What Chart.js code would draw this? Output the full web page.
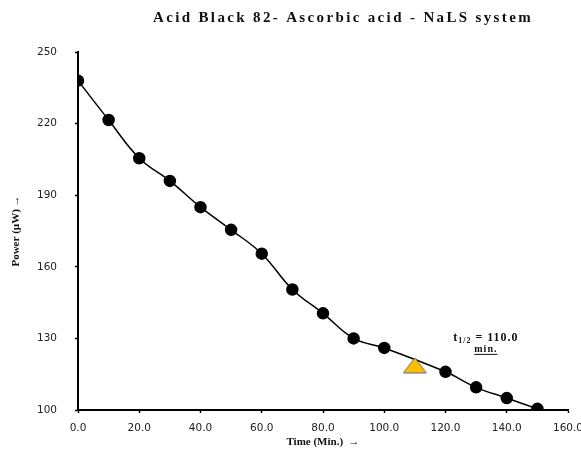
<!DOCTYPE html>
<html>
<head>
<meta charset="utf-8">
<script src="https://cdn.jsdelivr.net/npm/chart.js@4.4.1/dist/chart.umd.min.js"></script>
<style>
  html, body { margin: 0; padding: 0; background: #fff; }
  #wrap { width: 581px; height: 449px; }
</style>
</head>
<body>
<div id="wrap"><canvas id="chart" width="581" height="449"></canvas></div>
<script>
// time in minutes and measured power (uW)
var times = [0, 10, 20, 30, 40, 50, 60, 70, 80, 90, 100, 120, 130, 140, 150];
var power = [238, 221.5, 205.5, 196, 185, 175.5, 165.5, 150.5, 140.5, 130, 126, 116, 109.5, 105, 100.5];
// half-life marker
var halfTime = [110];
var halfPower = [118.7];
var titleText = 'Acid Black 82- Ascorbic acid - NaLS system';
var halfLabel = ['t', '1/2', ' = 110.0', 'min.'];

var serif = '"Liberation Serif", "Times New Roman", serif';

var curve = [];
for (var i = 0; i < times.length; i++) {
    curve.push({x: times[i], y: power[i]});
}

// flat yellow triangle for the t1/2 marker
var tri = document.createElement('canvas');
tri.width = 25; tri.height = 17;
var tc = tri.getContext('2d');
tc.beginPath();
tc.moveTo(1, 16); tc.lineTo(24, 16); tc.lineTo(12.5, 1); tc.closePath();
tc.fillStyle = '#FFC000';
tc.fill();
tc.strokeStyle = '#666';
tc.lineWidth = 1;
tc.stroke();

// title + t1/2 note drawn on top
var textPlugin = {
    id: 'textPlugin',
    afterDraw: function(chart) {
        var ctx = chart.ctx;
        var xs = chart.scales.x, ys = chart.scales.y;
        ctx.save();
        ctx.fillStyle = '#111';
        ctx.textBaseline = 'middle';

        // title with wide spacing like the original
        ctx.font = 'bold 15px ' + serif;
        var w = ctx.measureText(titleText).width;
        var sp = (380 - w) / titleText.length;
        ctx.letterSpacing = sp + 'px';
        ctx.textAlign = 'left';
        ctx.fillText(titleText, 153, 18);
        ctx.letterSpacing = '0px';

        // half-life note
        var x0 = xs.getPixelForValue(122.5);
        var y0 = ys.getPixelForValue(130);
        ctx.font = 'bold 12px ' + serif;
        ctx.letterSpacing = '1px';
        ctx.fillText(halfLabel[0], x0, y0);
        var tw = ctx.measureText(halfLabel[0]).width;
        ctx.font = 'bold 8px ' + serif;
        ctx.fillText(halfLabel[1], x0 + tw, y0 + 3);
        var sw = ctx.measureText(halfLabel[1]).width;
        ctx.font = 'bold 12px ' + serif;
        ctx.fillText(halfLabel[2], x0 + tw + sw, y0);
        var totalW = tw + sw + ctx.measureText(halfLabel[2]).width;

        ctx.font = 'bold 10px ' + serif;
        ctx.textAlign = 'center';
        var mx = x0 + totalW / 2;
        var my = y0 + 11;
        ctx.fillText(halfLabel[3], mx, my);
        var mw = ctx.measureText(halfLabel[3]).width;
        ctx.strokeStyle = '#111';
        ctx.lineWidth = 1;
        ctx.beginPath();
        ctx.moveTo(mx - mw / 2, my + 5);
        ctx.lineTo(mx + mw / 2, my + 5);
        ctx.stroke();
        ctx.restore();
    }
};

var ctx = document.getElementById('chart').getContext('2d');
var myChart = new Chart(ctx, {
    type: 'line',
    data: {
        datasets: [
            {
                // half-life triangle, on top
                data: [{x: halfTime[0], y: halfPower[0]}],
                showLine: false,
                pointStyle: tri,
                pointRadius: 12,
                order: 0
            },
            {
                data: curve,
                borderColor: '#000',
                borderWidth: 1.5,
                pointRadius: 5.5,
                pointBackgroundColor: '#000',
                pointBorderColor: '#000',
                tension: 0.4,
                fill: false,
                order: 1
            }
        ]
    },
    options: {
        responsive: false,
        animation: false,
        layout: { padding: { top: 52, right: 13, left: 0, bottom: 0 } },
        plugins: {
            legend: { display: false },
            tooltip: { enabled: false },
            title: { display: false }
        },
        scales: {
            x: {
                type: 'linear',
                min: 0,
                max: 160,
                afterFit: function(s) { s.height = 39; s.paddingLeft = 0; s.paddingRight = 0; },
                ticks: {
                    stepSize: 20,
                    padding: 9,
                    color: '#222',
                    font: { family: '"DejaVu Sans", Verdana, sans-serif', size: 10.5 },
                    callback: function(v) { return v.toFixed(1); }
                },
                grid: { drawOnChartArea: false, tickLength: 3, color: '#000', tickWidth: 1.5 },
                border: { color: '#000', width: 2 },
                title: {
                    display: true,
                    text: 'Time (Min.)  \u2192',
                    color: '#111',
                    font: { family: serif, size: 11, weight: 'bold' },
                    padding: { top: 0, bottom: 0 }
                }
            },
            y: {
                min: 100,
                max: 250,
                afterFit: function(s) { s.width = 78; },
                ticks: {
                    stepSize: 30,
                    padding: 18,
                    color: '#222',
                    font: { family: '"DejaVu Sans", Verdana, sans-serif', size: 10.5 }
                },
                grid: { drawOnChartArea: false, tickLength: 3, color: '#000', tickWidth: 1.5 },
                border: { color: '#000', width: 2 },
                title: {
                    display: true,
                    text: 'Power (\u00b5W) \u2192',
                    color: '#111',
                    font: { family: serif, size: 11, weight: 'bold' },
                    padding: { top: 10, bottom: 0 }
                }
            }
        }
    },
    plugins: [textPlugin]
});
</script>
</body>
</html>
